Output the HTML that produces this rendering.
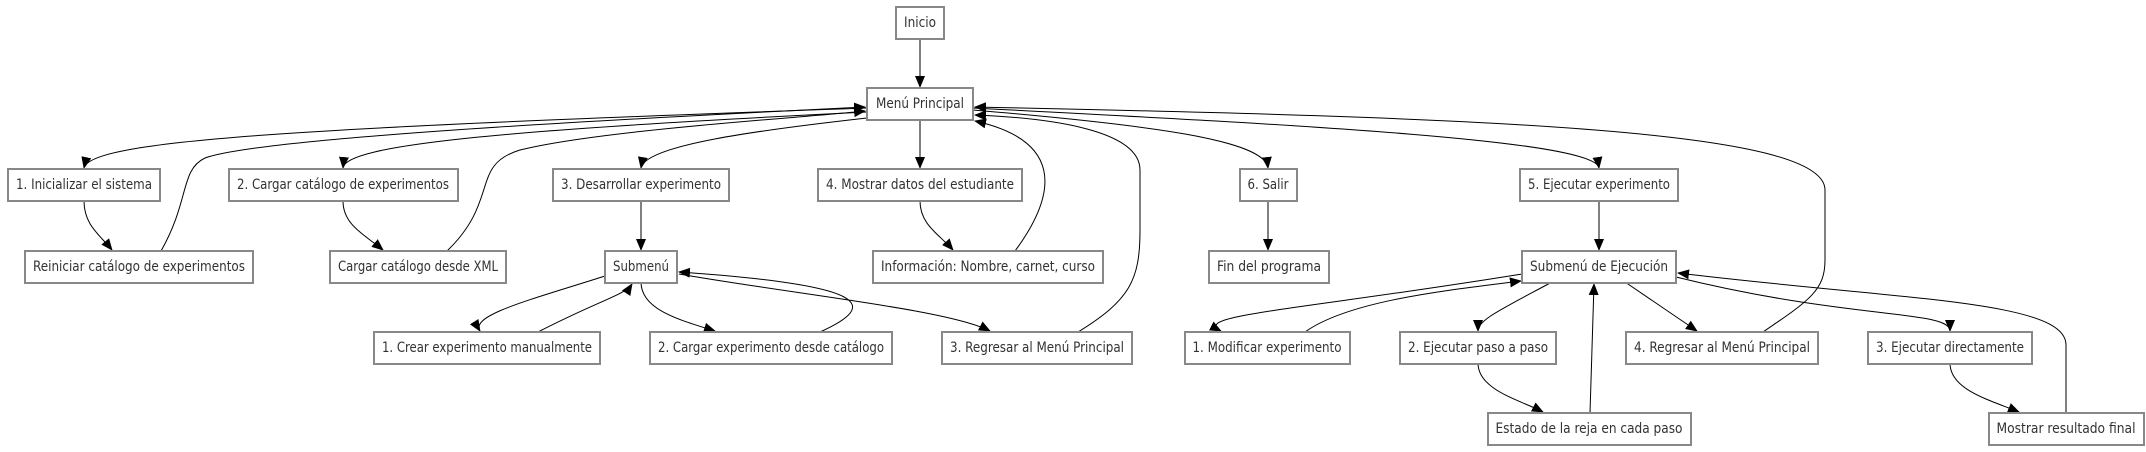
<!DOCTYPE html>
<html><head><meta charset="utf-8"><style>
html,body{margin:0;padding:0;background:#fff;}
svg{display:block;}
text{font-family:"Liberation Sans Narrow","DejaVu Sans Condensed","Liberation Sans",sans-serif;font-size:14px;fill:#333;text-anchor:middle;dominant-baseline:central;}
rect{fill:#fff;stroke:#888;stroke-width:2;}
path{fill:none;stroke:#000;stroke-width:1;}
</style></head><body>
<svg width="2146" height="452" viewBox="0 0 2146 452" xmlns="http://www.w3.org/2000/svg">
<defs><marker id="a" markerUnits="userSpaceOnUse" markerWidth="12" markerHeight="10" refX="11" refY="5" orient="auto"><path d="M0,0 L12,5 L0,10 Z" style="fill:#000;stroke:none"/></marker></defs>
<g marker-end="url(#a)">
<path d="M920,39 L920,87"/>
<path d="M867,108 C300,128 90,140 84,168"/>
<path d="M161,251 C190,200 180,170 205,158 C260,138 600,120 865,107"/>
<path d="M867,112 C500,130 345,145 343,168"/>
<path d="M447,251 C500,200 470,165 520,150 C600,130 800,118 865,111"/>
<path d="M867,118 C760,130 645,145 641,168"/>
<path d="M920,120 L920,168"/>
<path d="M1015,251 C1060,190 1060,140 975,121"/>
<path d="M1078,332 C1130,300 1140,280 1140,230 L1140,170 C1140,130 1050,118 975,115"/>
<path d="M973,110 C1150,125 1265,140 1268,168"/>
<path d="M973,108 C1300,125 1595,140 1599,168"/>
<path d="M1763,332 C1810,300 1825,290 1825,260 L1825,190 C1825,130 1500,118 975,107"/>
<path d="M84,201 C84,225 100,235 112,250"/>
<path d="M343,201 C343,225 365,235 383,250"/>
<path d="M641,201 L641,250"/>
<path d="M920,201 C920,225 940,235 953,250"/>
<path d="M1268,201 L1268,250"/>
<path d="M1599,201 L1599,250"/>
<path d="M605,276 C530,300 470,315 480,331"/>
<path d="M538,332 C600,300 625,295 632,284"/>
<path d="M641,282 C641,310 680,320 715,331"/>
<path d="M820,332 C880,305 870,285 679,272"/>
<path d="M679,274 C800,295 950,310 990,331"/>
<path d="M1522,274 C1300,310 1190,315 1221,331"/>
<path d="M1305,332 C1350,300 1450,290 1521,281"/>
<path d="M1552,282 C1500,310 1478,320 1478,331"/>
<path d="M1625,282 L1697,331"/>
<path d="M1590,413 L1594,284"/>
<path d="M1478,363 C1478,390 1520,400 1543,412"/>
<path d="M1676,277 C1850,320 1950,310 1950,331"/>
<path d="M2066,413 L2066,345 C2066,300 1900,300 1678,273"/>
<path d="M1950,363 C1950,390 1990,400 2019,412"/>
</g>
<g style="" >
<rect x="896" y="7" width="48" height="32"/><text x="920" y="23" textLength="32" lengthAdjust="spacingAndGlyphs">Inicio</text>
<rect x="867" y="88" width="106" height="32"/><text x="920" y="104" textLength="88" lengthAdjust="spacingAndGlyphs">Menú Principal</text>
<rect x="8" y="169" width="152" height="32"/><text x="84" y="185" textLength="136" lengthAdjust="spacingAndGlyphs">1. Inicializar el sistema</text>
<rect x="229" y="169" width="229" height="32"/><text x="343" y="185" textLength="212" lengthAdjust="spacingAndGlyphs">2. Cargar catálogo de experimentos</text>
<rect x="553" y="169" width="176" height="32"/><text x="641" y="185" textLength="160" lengthAdjust="spacingAndGlyphs">3. Desarrollar experimento</text>
<rect x="818" y="169" width="204" height="32"/><text x="920" y="185" textLength="188" lengthAdjust="spacingAndGlyphs">4. Mostrar datos del estudiante</text>
<rect x="1240" y="169" width="57" height="32"/><text x="1268" y="185" textLength="41" lengthAdjust="spacingAndGlyphs">6. Salir</text>
<rect x="1520" y="169" width="158" height="32"/><text x="1599" y="185" textLength="142" lengthAdjust="spacingAndGlyphs">5. Ejecutar experimento</text>
<rect x="25" y="251" width="228" height="32"/><text x="139" y="267" textLength="212" lengthAdjust="spacingAndGlyphs">Reiniciar catálogo de experimentos</text>
<rect x="330" y="251" width="176" height="32"/><text x="418" y="267" textLength="160" lengthAdjust="spacingAndGlyphs">Cargar catálogo desde XML</text>
<rect x="605" y="251" width="72" height="32"/><text x="641" y="267" textLength="56" lengthAdjust="spacingAndGlyphs">Submenú</text>
<rect x="873" y="251" width="230" height="32"/><text x="988" y="267" textLength="214" lengthAdjust="spacingAndGlyphs">Información: Nombre, carnet, curso</text>
<rect x="1209" y="251" width="120" height="32"/><text x="1269" y="267" textLength="104" lengthAdjust="spacingAndGlyphs">Fin del programa</text>
<rect x="1522" y="251" width="154" height="32"/><text x="1599" y="267" textLength="138" lengthAdjust="spacingAndGlyphs">Submenú de Ejecución</text>
<rect x="374" y="332" width="226" height="32"/><text x="487" y="348" textLength="210" lengthAdjust="spacingAndGlyphs">1. Crear experimento manualmente</text>
<rect x="650" y="332" width="242" height="32"/><text x="771" y="348" textLength="226" lengthAdjust="spacingAndGlyphs">2. Cargar experimento desde catálogo</text>
<rect x="942" y="332" width="190" height="32"/><text x="1037" y="348" textLength="174" lengthAdjust="spacingAndGlyphs">3. Regresar al Menú Principal</text>
<rect x="1185" y="332" width="165" height="32"/><text x="1267" y="348" textLength="149" lengthAdjust="spacingAndGlyphs">1. Modificar experimento</text>
<rect x="1400" y="332" width="156" height="32"/><text x="1478" y="348" textLength="140" lengthAdjust="spacingAndGlyphs">2. Ejecutar paso a paso</text>
<rect x="1626" y="332" width="192" height="32"/><text x="1722" y="348" textLength="176" lengthAdjust="spacingAndGlyphs">4. Regresar al Menú Principal</text>
<rect x="1868" y="332" width="164" height="32"/><text x="1950" y="348" textLength="148" lengthAdjust="spacingAndGlyphs">3. Ejecutar directamente</text>
<rect x="1488" y="413" width="203" height="32"/><text x="1589" y="429" textLength="187" lengthAdjust="spacingAndGlyphs">Estado de la reja en cada paso</text>
<rect x="1989" y="413" width="155" height="32"/><text x="2066" y="429" textLength="139" lengthAdjust="spacingAndGlyphs">Mostrar resultado final</text>
</g>
</svg>
</body></html>
